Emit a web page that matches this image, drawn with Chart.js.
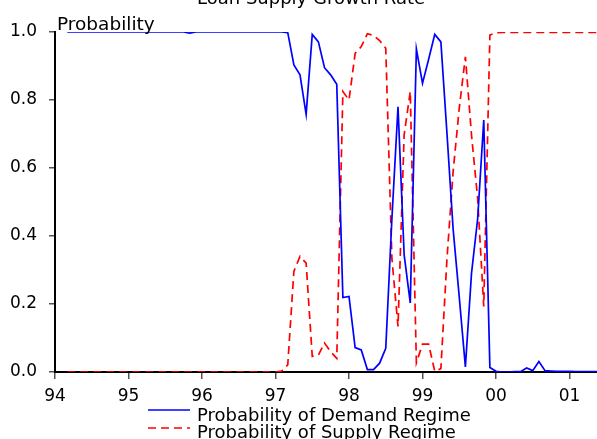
<!DOCTYPE html>
<html>
<head>
<meta charset="utf-8">
<script src="https://cdn.jsdelivr.net/npm/chart.js@4"></script>
<style>
  html, body { margin:0; padding:0; background:#fff; }
  #wrap { position:relative; width:597px; height:439px; overflow:hidden; font-family:"DejaVu Sans", sans-serif; color:#000; }
  #chart { position:absolute; left:0; top:0; }
  .lbl { position:absolute; font-size:18px; line-height:18px; white-space:nowrap; }
  .key { position:absolute; left:148px; width:42px; height:4px; }
</style>
</head>
<body>
<div id="wrap">
  <canvas id="chart" width="597" height="439"></canvas>
  <div class="lbl" style="left:197px; top:-11px;">Loan Supply Growth Rate</div>
  <div class="lbl" style="left:57px; top:15px; font-size:18.5px;">Probability</div>
  <svg class="key" style="top:408px;"><line x1="0" y1="2" x2="42" y2="2" stroke="#0000ff" stroke-width="1.6"/></svg>
  <div class="lbl" style="left:197px; top:406px;">Probability of Demand Regime</div>
  <svg class="key" style="top:426px;"><line x1="0" y1="2" x2="42" y2="2" stroke="#ff0000" stroke-width="1.6" stroke-dasharray="8,5"/></svg>
  <div class="lbl" style="left:197px; top:423px;">Probability of Supply Regime</div>
</div>
<script>
// monthly series, first observation 1994:03
const startYear  = 1994;
const startMonth = 3;

// Probability of demand regime
const demandProb = [
    1, 1, 1, 1, 1, 1, 1, 1, 1, 1,                                          // 1994 Mar-Dec
    1, 1, 1, 1, 1, 1, 1, 1, 1, 1, 0.997, 1,                                // 1995
    1, 1, 1, 1, 1, 1, 1, 1, 1, 1, 1, 1,                                    // 1996
    1, 1, 0.998, 0.903, 0.874, 0.758, 0.993, 0.971, 0.895, 0.874, 0.846, 0.219,   // 1997
    0.222, 0.072, 0.065, 0.007, 0.007, 0.026, 0.07, 0.45, 0.78, 0.345, 0.203, 0.95, // 1998
    0.849, 0.92, 0.993, 0.971, 0.70, 0.42, 0.22, 0.015, 0.29, 0.45, 0.741, 0.013,  // 1999
    0.002, 0.0, 0.0, 0.001, 0.001, 0.012, 0.004, 0.031, 0.004, 0.003, 0.002, 0.002, // 2000
    0.002, 0.001, 0.001, 0.001, 0.001, 0.001                               // 2001 Jan-Jun
];

// Probability of supply regime
const supplyProb = [
    0, 0, 0, 0, 0, 0, 0, 0, 0, 0,
    0, 0, 0, 0, 0, 0, 0, 0, 0, 0, 0, 0,
    0, 0, 0, 0, 0, 0, 0, 0, 0, 0, 0, 0,
    0, 0.003, 0.021, 0.296, 0.34, 0.32, 0.046, 0.05, 0.085, 0.06, 0.04, 0.825,
    0.80, 0.937, 0.957, 0.995, 0.99, 0.975, 0.952, 0.335, 0.134, 0.697, 0.825, 0.027,
    0.082, 0.082, 0.002, 0.01, 0.335, 0.59, 0.776, 0.927, 0.697, 0.511, 0.193, 0.991,
    0.998, 0.999, 0.999, 0.999, 0.999, 0.999, 0.999, 0.999, 0.999, 0.999, 0.999, 0.999,
    0.999, 0.999, 0.999, 0.999, 0.999, 0.999
];

const yearTicks  = [1994, 1995, 1996, 1997, 1998, 1999, 2000, 2001];
const yearLabels = ["94", "95", "96", "97", "98", "99", "00", "01"];

const monthPos = i => startYear + (startMonth - 1 + i) / 12;
const toPoints = arr => arr.map((v, i) => ({ x: monthPos(i), y: v }));

const tickFont = { family: "DejaVu Sans", size: 17 };

new Chart(document.getElementById("chart"), {
    type: "line",
    data: {
        datasets: [
            { label: "Probability of Demand Regime", data: toPoints(demandProb),
              borderColor: "#0000ff", borderWidth: 1.7, pointRadius: 0, tension: 0, fill: false },
            { label: "Probability of Supply Regime", data: toPoints(supplyProb),
              borderColor: "#ff0000", borderWidth: 1.7, borderDash: [8, 5], pointRadius: 0, tension: 0, fill: false },
        ],
    },
    options: {
        responsive: false, animation: false, devicePixelRatio: 1,
        layout: { padding: { top: 32, left: 0, right: 0, bottom: 37 } },
        plugins: { legend: { display: false }, title: { display: false }, tooltip: { enabled: false } },
        scales: {
            x: {
                type: "linear", min: 1994, max: 2001.374,
                afterFit: s => { s.height = 30; },
                afterBuildTicks: s => { s.ticks = yearTicks.map(v => ({ value: v })); },
                ticks: { autoSkip: false, maxRotation: 0, color: "#000", font: tickFont, padding: 7,
                         callback: v => yearLabels[yearTicks.indexOf(v)] },
                grid: { drawOnChartArea: false, tickLength: 7, color: "#555", lineWidth: 1.5 },
                border: { color: "#000", width: 2 },
            },
            y: {
                min: 0, max: 1,
                afterFit: s => { s.width = 55; },
                ticks: { stepSize: 0.2, color: "#000", font: tickFont, padding: 12,
                         callback: v => v.toFixed(1) },
                grid: { drawOnChartArea: false, tickLength: 6, color: "#555", lineWidth: 1.5 },
                border: { color: "#000", width: 2 },
            },
        },
    },
});
</script>
</body>
</html>
